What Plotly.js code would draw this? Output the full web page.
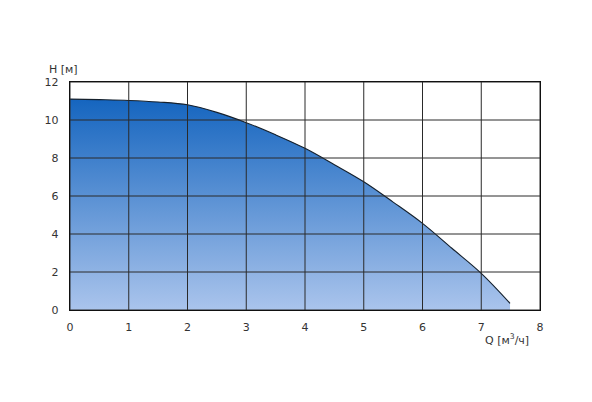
<!DOCTYPE html>
<html><head><meta charset="utf-8">
<script src="https://cdn.plot.ly/plotly-3.0.1.min.js"></script>
<style>body{margin:0;background:#fff}#c{width:592px;height:402px}</style>
</head><body><div id="c"></div>
<script>
var flowQ = [0, 0.5, 1, 1.5, 2, 2.5, 3, 3.5, 4, 4.5, 5, 5.5, 6, 6.5, 7, 7.49];
var headH = [11.1, 11.07, 11.03, 10.95, 10.8, 10.4, 9.86, 9.22, 8.51, 7.65, 6.75, 5.68, 4.56, 3.25, 1.93, 0.35];
var xTicks = [0, 1, 2, 3, 4, 5, 6, 7, 8];
var yTicks = [0, 2, 4, 6, 8, 10, 12];

var shapes = [];
xTicks.forEach(function(v){
  shapes.push({type:'line', layer:'above', xref:'x', yref:'paper', x0:v, x1:v, y0:0, y1:1, line:{color:'#2a2a2a', width:1}});
});
yTicks.forEach(function(v){
  shapes.push({type:'line', layer:'above', xref:'paper', yref:'y', x0:0, x1:1, y0:v, y1:v, line:{color:'#2a2a2a', width:1}});
});

var trace = {
  x: flowQ, y: headH, type:'scatter', mode:'lines',
  line:{color:'#15202c', width:1.1, shape:'spline', smoothing:1},
  fill:'tozeroy',
  fillgradient:{type:'vertical', start:0, stop:11.1, colorscale:[[0,'#aac4ec'],[1,'#1565bf']]},
  hoverinfo:'skip'
};

var font = {family:'DejaVu Sans, Verdana, sans-serif', size:11, color:'#333'};
var layout = {
  width:592, height:402,
  margin:{l:70, r:52, t:82, b:92},
  paper_bgcolor:'#fff', plot_bgcolor:'#fff',
  showlegend:false,
  font: font,
  xaxis:{range:[0,8], tickvals:xTicks, ticktext:xTicks.map(String), showgrid:false, zeroline:false,
         showline:true, mirror:true, linecolor:'#111', linewidth:1.3, ticks:'', ticklabelstandoff:6, fixedrange:true},
  yaxis:{range:[0,12], tickvals:yTicks, ticktext:yTicks.map(String), showgrid:false, zeroline:false,
         showline:true, mirror:true, linecolor:'#111', linewidth:1.3, ticks:'', ticklabelstandoff:8, fixedrange:true},
  shapes: shapes,
  annotations:[
    {text:'H [м]', xref:'paper', yref:'paper', x:-0.013, y:1.053, xanchor:'center', yanchor:'middle', showarrow:false, font:font},
    {text:'Q [м<sup>3</sup>/ч]', xref:'paper', yref:'paper', x:0.98, y:-0.13, xanchor:'right', yanchor:'middle', showarrow:false, font:font}
  ]
};
Plotly.newPlot('c', [trace], layout, {displayModeBar:false, staticPlot:true});
</script></body></html>
